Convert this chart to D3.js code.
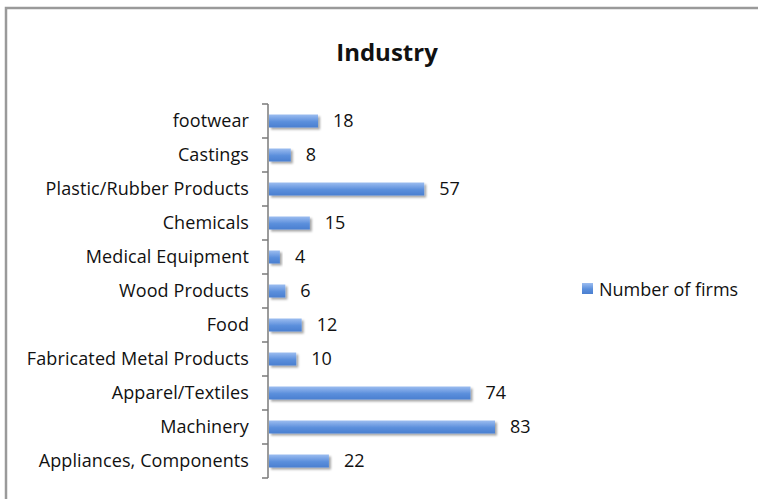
<!DOCTYPE html>
<html>
<head>
<meta charset="utf-8">
<script src="https://cdn.jsdelivr.net/npm/d3@7"></script>
<style>
  body { margin: 0; background: #fff; }
  svg text { font-family: "Open Sans", "Liberation Sans", sans-serif; fill: #111; }
</style>
</head>
<body>
<script>
// categories top to bottom, as shown in the chart
const categories = ["footwear", "Castings", "Plastic/Rubber Products", "Chemicals",
  "Medical Equipment", "Wood Products", "Food", "Fabricated Metal Products",
  "Apparel/Textiles", "Machinery", "Appliances, Components"];
const firms = [18, 8, 57, 15, 4, 6, 12, 10, 74, 83, 22];
const seriesName = "Number of firms";
const chartTitle = "Industry";

const width = 758, height = 499;
const margin = { top: 104, left: 268, bottom: 21 };

const svg = d3.select("body").append("svg")
    .attr("width", width)
    .attr("height", height);

const defs = svg.append("defs");
const grad = defs.append("linearGradient")
    .attr("id", "barGrad").attr("x1", 0).attr("y1", 0).attr("x2", 0).attr("y2", 1);
grad.append("stop").attr("offset", "0%").attr("stop-color", "#9cbdf0");
grad.append("stop").attr("offset", "55%").attr("stop-color", "#5b8fdc");
grad.append("stop").attr("offset", "100%").attr("stop-color", "#4a7fd0");
const shadow = defs.append("filter").attr("id", "shadow")
    .attr("x", "-10%").attr("y", "-50%").attr("width", "130%").attr("height", "220%");
shadow.append("feDropShadow").attr("dx", 2).attr("dy", 2).attr("stdDeviation", 1.2)
    .attr("flood-color", "#000").attr("flood-opacity", 0.35);

// chart frame
svg.append("rect")
    .attr("x", 6).attr("y", 8)
    .attr("width", width + 10).attr("height", height)
    .attr("fill", "#fff")
    .attr("stroke", "#9a9a9a").attr("stroke-width", 2.5);

const x = d3.scaleLinear()
    .domain([0, 83])
    .range([margin.left + 1, 495]);

const y = d3.scaleBand()
    .domain(categories)
    .range([margin.top, height - margin.bottom]);

// title
svg.append("text")
    .attr("x", 387).attr("y", 61)
    .attr("text-anchor", "middle")
    .style("font-size", "24px").style("font-weight", "bold")
    .text(chartTitle);

// y axis
const yAxis = svg.append("g").attr("transform", `translate(${margin.left},0)`);
yAxis.append("line")
    .attr("x1", 0).attr("x2", 0)
    .attr("y1", y.range()[0]).attr("y2", y.range()[1])
    .attr("stroke", "#7a7a7a").attr("stroke-width", 1.5);
const tickPos = categories.map(c => y(c)).concat([y.range()[1]]);
yAxis.selectAll(".tk").data(tickPos).join("line")
    .attr("x1", -6).attr("x2", 0)
    .attr("y1", d => d).attr("y2", d => d)
    .attr("stroke", "#7a7a7a").attr("stroke-width", 1.5);
yAxis.selectAll(".lbl").data(categories).join("text")
    .attr("x", -19)
    .attr("y", d => y(d) + y.bandwidth() / 2)
    .attr("dy", "0.35em")
    .attr("text-anchor", "end")
    .style("font-size", "18px")
    .style("letter-spacing", "0.1px")
    .text(d => d);

// bars
const barH = 13;
svg.append("g").selectAll("rect").data(firms).join("rect")
    .attr("x", x(0))
    .attr("y", (d, i) => y(categories[i]) + y.bandwidth() / 2 - barH / 2)
    .attr("width", d => x(d) - x(0))
    .attr("height", barH)
    .attr("fill", "url(#barGrad)")
    .attr("filter", "url(#shadow)");

// value labels
svg.append("g").selectAll("text").data(firms).join("text")
    .attr("x", d => x(d) + 15)
    .attr("y", (d, i) => y(categories[i]) + y.bandwidth() / 2)
    .attr("dy", "0.35em")
    .style("font-size", "18px")
    .text(d => d);

// legend
const legend = svg.append("g").attr("transform", "translate(582,283)");
legend.append("rect")
    .attr("width", 11).attr("height", 11)
    .attr("fill", "url(#barGrad)");
legend.append("text")
    .attr("x", 17).attr("y", 7)
    .attr("dy", "0.35em")
    .style("font-size", "18px")
    .text(seriesName);
</script>
</body>
</html>
